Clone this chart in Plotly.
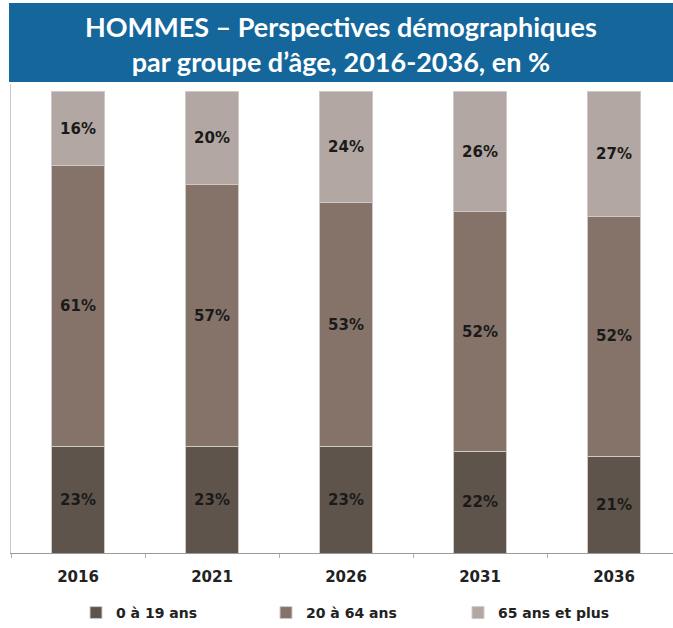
import plotly.graph_objects as go

years = ["2016", "2021", "2026", "2031", "2036"]
age_0_19 = [23, 23, 23, 22, 21]
age_20_64 = [61, 57, 53, 52, 52]
age_65_plus = [16, 20, 24, 26, 27]
series_names = ["0 à 19 ans", "20 à 64 ans", "65 ans et plus"]
colors = ["#5f544b", "#85736a", "#b2a7a2"]

W, H = 673, 628


def px(xp):
    return xp / W


def py(yp):
    return (H - yp) / H


legend_ids = ["legend", "legend2", "legend3"]
legend_x = [76, 266, 458]

fig = go.Figure()
for name, vals, col, lid in zip(series_names, [age_0_19, age_20_64, age_65_plus], colors, legend_ids):
    fig.add_trace(go.Bar(
        x=years, y=vals, name=f"<b>{name}</b>", legend=lid, showlegend=True,
        marker=dict(color=col, line=dict(color="#d0cac6", width=1)),
        text=[f"<b>{v}%</b>" for v in vals],
        textposition="inside", insidetextanchor="middle",
        textfont=dict(family="DejaVu Sans", size=15, color="#1a1a1a"),
        textangle=0,
    ))

legend_common = dict(orientation="h", yanchor="middle", xanchor="left", y=py(613),
                     bgcolor="rgba(0,0,0,0)", visible=True,
                     font=dict(family="DejaVu Sans", size=14, color="#222222"))

fig.update_layout(
    width=W, height=H, barmode="stack", bargap=0.6, showlegend=True,
    margin=dict(l=0, r=0, t=0, b=0, autoexpand=False),
    paper_bgcolor="white", plot_bgcolor="white",
    font=dict(family="DejaVu Sans"),
    xaxis=dict(domain=[px(11), 1], range=[-0.5, -0.5 + (673 - 11) / 134.0], showgrid=False,
               showline=True, linecolor="#9a9a9a", linewidth=1,
               ticks="outside", tickson="boundaries", ticklen=4, tickcolor="#b0b0b0",
               ticklabelstandoff=10,
               tickfont=dict(family="DejaVu Sans", size=15, color="#222222"),
               tickvals=years, ticktext=[f"<b>{y}</b>" for y in years]),
    yaxis=dict(domain=[py(553), py(84)], range=[0, 101.7],
               showgrid=False, showticklabels=False, zeroline=False,
               showline=True, linecolor="#c8c8c8", linewidth=1),
    legend=dict(x=px(legend_x[0]), **legend_common),
    legend2=dict(x=px(legend_x[1]), **legend_common),
    legend3=dict(x=px(legend_x[2]), **legend_common),
    shapes=[dict(type="rect", xref="paper", yref="paper", x0=px(9), x1=1,
                 y0=py(82), y1=py(3), fillcolor="#14669b", line=dict(width=0), layer="above")],
    annotations=[dict(text="<b>HOMMES – Perspectives démographiques<br>par groupe d’âge, 2016-2036, en %</b>",
                      xref="paper", yref="paper", x=px((9 + 673) / 2), y=py(44),
                      xanchor="center", yanchor="middle", showarrow=False, align="center",
                      font=dict(family="Lato", size=27, color="white"))],
)
fig.write_html("out.html", config={"displayModeBar": False},
               post_script="document.body.style.margin='0';document.body.style.overflow='hidden';")
